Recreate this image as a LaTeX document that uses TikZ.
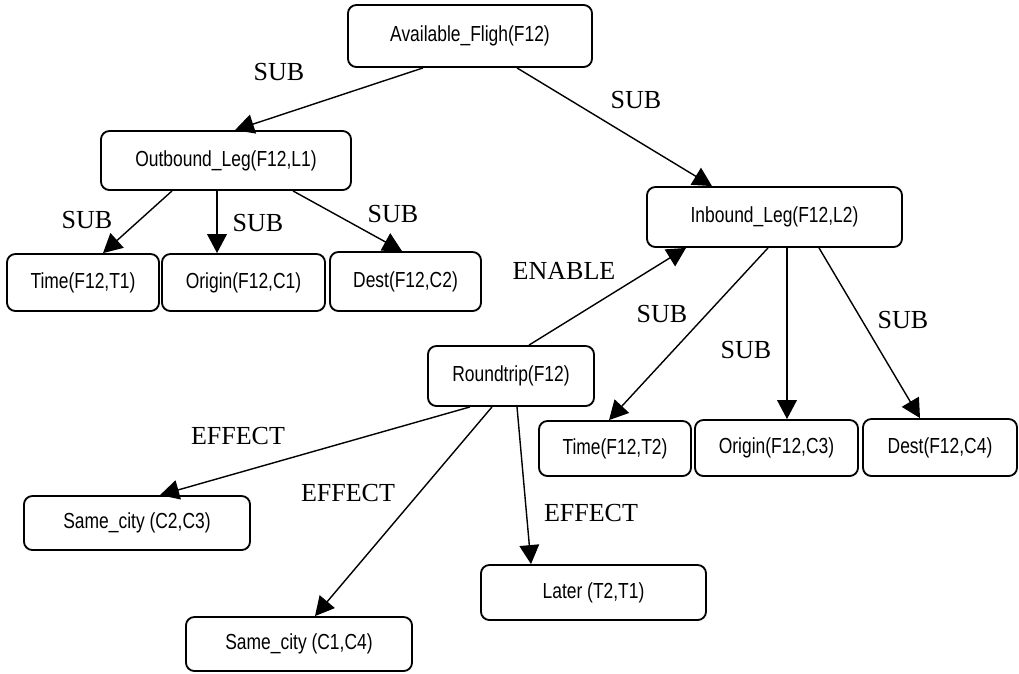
\documentclass[tikz,border=0pt]{standalone}
\usepackage{fontspec}
\usepackage{tikz}
\usetikzlibrary{arrows.meta,calc}
\newfontfamily\boxfont[FakeStretch=0.8]{Liberation Sans}
\newfontfamily\relfont{Liberation Serif}

\begin{document}
\begin{tikzpicture}[x=0.025cm, y=-0.025cm,
    box/.style={draw, line width=1.3pt, rounded corners=6pt, minimum height=1.425cm, inner sep=0pt,
        font=\boxfont\fontsize{15.5}{18}\selectfont},
    rel/.style={font=\relfont\fontsize{18.5}{22}\selectfont, inner sep=0pt},
    arr/.style={line width=1pt, -{Triangle[length=13.5pt,width=14pt]}}]
    \useasboundingbox (0,0) rectangle (1019,673);

    % Flight and its two legs
    \node[box, minimum width=6.1cm, minimum height=1.55cm] (avail) at (470,36) {Available\_Fligh(F12)};
    \node[box, minimum width=6.25cm, minimum height=1.475cm] (outb) at (226,160.5) {Outbound\_Leg(F12,L1)};
    \node[box, minimum width=6.375cm, minimum height=1.5cm] (inb) at (774.5,217) {Inbound\_Leg(F12,L2)};

    % Outbound parts
    \node[box, minimum width=3.8cm] (time1) at (83,282.5) {Time(F12,T1)};
    \node[box, minimum width=4.075cm] (orig1) at (243.5,282.5) {Origin(F12,C1)};
    \node[box, minimum width=3.775cm, minimum height=1.475cm] (dest1) at (405.5,281.5) {Dest(F12,C2)};

    % Inbound parts
    \node[box, minimum width=3.8cm, minimum height=1.375cm] (time2) at (615,448.5) {Time(F12,T2)};
    \node[box, minimum width=4.075cm, minimum height=1.4cm] (orig2) at (776.5,448) {Origin(F12,C3)};
    \node[box, minimum width=3.85cm] (dest2) at (940,447.5) {Dest(F12,C4)};

    % Roundtrip and effects
    \node[box, minimum width=4.15cm, minimum height=1.5cm] (round) at (511,376) {Roundtrip(F12)};
    \node[box, minimum width=5.65cm, minimum height=1.35cm] (same1) at (137,523) {Same\_city (C2,C3)};
    \node[box, minimum width=5.65cm, minimum height=1.35cm] (same2) at (299,644) {Same\_city (C1,C4)};
    \node[box, minimum width=5.625cm, minimum height=1.375cm] (later) at (593.5,592.5) {Later (T2,T1)};

    % SUB links
    \draw[arr] ($(avail.south)+(-47,0)$) -- ($(outb.north)+(9,0)$);
    \draw[arr] ($(avail.south)+(47,0)$) -- ($(inb.north)+(-62.5,0)$);
    \draw[arr] ($(outb.south)+(-54,0)$) -- ($(time1.north)+(20,0)$);
    \draw[arr] ($(outb.south)+(-9,0)$) -- ($(orig1.north)+(-26.5,0)$);
    \draw[arr] ($(outb.south)+(67,0)$) -- ($(dest1.north)+(-3.5,0)$);
    \draw[arr] ($(inb.south)+(-6.5,0)$) -- ($(time2.north)+(-6,0)$);
    \draw[arr] ($(inb.south)+(12.5,0)$) -- ($(orig2.north)+(10.5,0)$);
    \draw[arr] ($(inb.south)+(44.5,0)$) -- ($(dest2.north)+(-20,0)$);

    % ENABLE and EFFECT links
    \draw[arr] ($(round.north)+(18,0)$) -- ($(inb.south)+(-88.5,0)$);
    \draw[arr] ($(round.south)+(-41,0)$) -- ($(same1.north)+(23,0)$);
    \draw[arr] ($(round.south)+(-19,0)$) -- ($(same2.north)+(16,0)$);
    \draw[arr] ($(round.south)+(6,0)$) -- ($(later.north)+(-62.5,0)$);

    % Labels
    \node[rel] (sub1) at (279,72) {SUB};
    \node[rel] (sub2) at (636,100) {SUB};
    \node[rel] (sub3) at (87,220) {SUB};
    \node[rel] (sub4) at (258,223) {SUB};
    \node[rel] (sub5) at (393,214) {SUB};
    \node[rel] (sub6) at (662,314) {SUB};
    \node[rel] (sub7) at (746,350) {SUB};
    \node[rel] (sub8) at (903,320) {SUB};
    \node[rel] (enable) at (564,271) {ENABLE};
    \node[rel] (eff1) at (238,436) {EFFECT};
    \node[rel] (eff2) at (348,493) {EFFECT};
    \node[rel] (eff3) at (591,513) {EFFECT};

\end{tikzpicture}
\end{document}
